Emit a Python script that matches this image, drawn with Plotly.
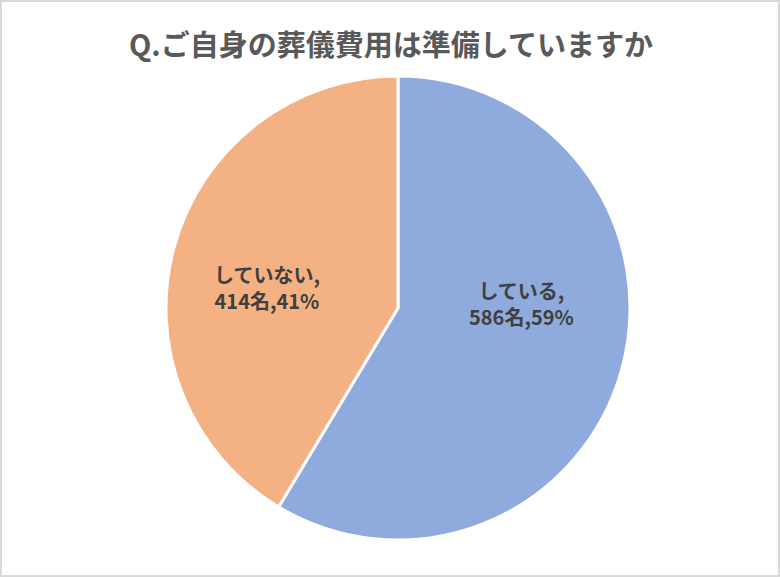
import plotly.graph_objects as go

labels = ["している", "していない"]
counts = [586, 414]
percents = [59, 41]
colors = ["#8FAADC", "#F4B183"]
title_text = "Q.ご自身の葬儀費用は準備していますか"

texts = [f"{l},<br>{c}名,{p}%" for l, c, p in zip(labels, counts, percents)]

W, H = 780, 577
cx, cy, r = 398, 308, 232
label_pos = [(521, 303), (267, 287)]

fig = go.Figure(go.Pie(
    labels=labels,
    values=counts,
    textinfo="none",
    sort=False,
    direction="clockwise",
    rotation=0,
    marker=dict(colors=colors, line=dict(color="white", width=3)),
    hoverinfo="skip",
    showlegend=False,
    domain=dict(x=[(cx - r) / W, (cx + r) / W], y=[1 - (cy + r) / H, 1 - (cy - r) / H]),
))

annotations = [dict(
    text=f"<b>{title_text}</b>", x=391 / W, y=1 - 43 / H, xref="paper", yref="paper",
    showarrow=False, xanchor="center", yanchor="middle",
    font=dict(family="Noto Sans CJK JP", size=29, color="#595959"),
)]
for t, (lx, ly) in zip(texts, label_pos):
    annotations.append(dict(
        text=t, x=lx / W, y=1 - ly / H, xref="paper", yref="paper",
        showarrow=False, xanchor="center", yanchor="middle", align="center",
        font=dict(family="Noto Sans CJK JP", size=20, color="#404040", weight="bold"),
    ))

fig.update_layout(
    width=W, height=H,
    margin=dict(l=0, r=0, t=0, b=0),
    paper_bgcolor="white",
    plot_bgcolor="white",
    showlegend=False,
    annotations=annotations,
    shapes=[dict(type="rect", xref="paper", yref="paper", x0=0, x1=1, y0=0, y1=1,
                 line=dict(color="#D9D9D9", width=4), layer="above")],
)

fig.write_html(
    "out.html",
    config={"displayModeBar": False},
    post_script="document.body.style.margin='0';document.body.style.padding='0';document.body.style.overflow='hidden';",
)
